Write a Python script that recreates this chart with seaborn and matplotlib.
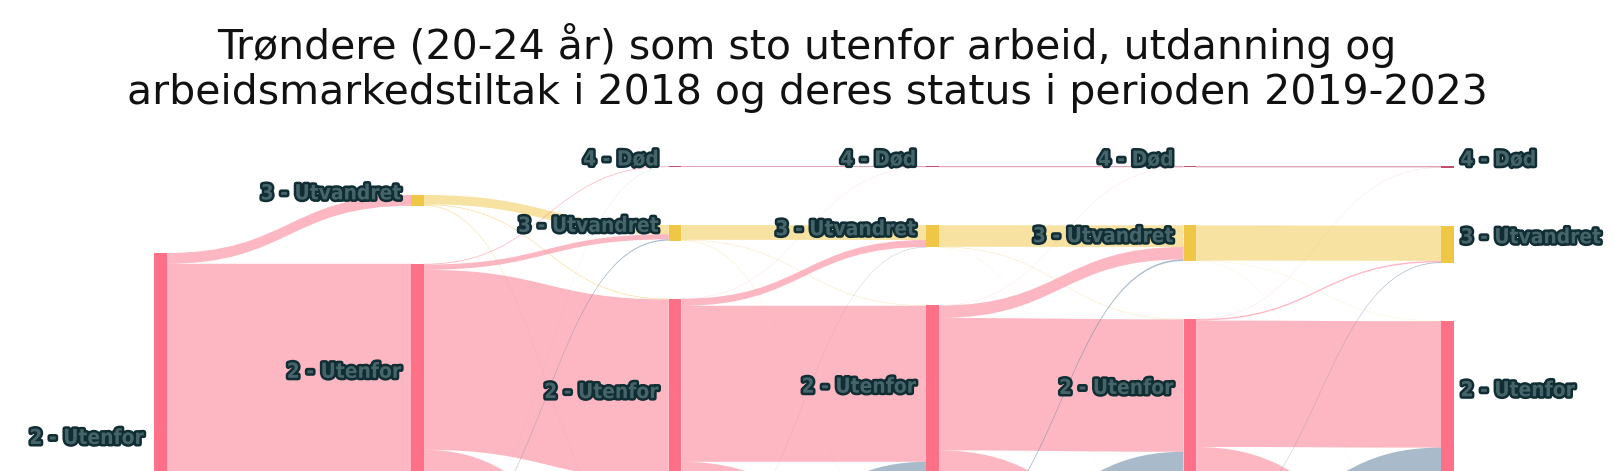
import numpy as np
import pandas as pd
import matplotlib
matplotlib.use("Agg")
import matplotlib.pyplot as plt
import seaborn as sns
from matplotlib.path import Path
from matplotlib.patches import PathPatch, Rectangle
import matplotlib.patheffects as pe
from matplotlib import font_manager as fm

# ---------------- data ----------------
title = ("Trøndere (20-24 år) som sto utenfor arbeid, utdanning og\n"
         "arbeidsmarkedstiltak i 2018 og deres status i perioden 2019-2023")
years = [2018, 2019, 2020, 2021, 2022, 2023]
categories = ["4 - Død", "3 - Utvandret", "2 - Utenfor", "1 - Innenfor"]

# transition 2018 -> 2019
src_2018 = ["2 - Utenfor", "2 - Utenfor", "2 - Utenfor"]
tgt_2019 = ["3 - Utvandret", "2 - Utenfor", "1 - Innenfor"]
val_2018_2019 = [54, 1150, 716]

# transition 2019 -> 2020
src_2019 = ["3 - Utvandret", "3 - Utvandret", "3 - Utvandret",
            "2 - Utenfor", "2 - Utenfor", "2 - Utenfor", "2 - Utenfor",
            "1 - Innenfor", "1 - Innenfor", "1 - Innenfor", "1 - Innenfor"]
tgt_2020 = ["3 - Utvandret", "2 - Utenfor", "1 - Innenfor",
            "4 - Død", "3 - Utvandret", "2 - Utenfor", "1 - Innenfor",
            "4 - Død", "3 - Utvandret", "2 - Utenfor", "1 - Innenfor"]
val_2019_2020 = [46, 4, 4, 4, 26, 900, 220, 1, 6, 101, 608]

# transition 2020 -> 2021
src_2020 = ["4 - Død",
            "3 - Utvandret", "3 - Utvandret", "3 - Utvandret",
            "2 - Utenfor", "2 - Utenfor", "2 - Utenfor", "2 - Utenfor",
            "1 - Innenfor", "1 - Innenfor", "1 - Innenfor"]
tgt_2021 = ["4 - Død",
            "3 - Utvandret", "2 - Utenfor", "1 - Innenfor",
            "4 - Død", "3 - Utvandret", "2 - Utenfor", "1 - Innenfor",
            "3 - Utvandret", "2 - Utenfor", "1 - Innenfor"]
val_2020_2021 = [5, 74, 2, 2, 1, 35, 780, 189, 2, 101, 729]

# transition 2021 -> 2022
src_2021 = list(src_2020)
tgt_2022 = list(tgt_2021)
val_2021_2022 = [6, 108, 2, 1, 1, 62, 662, 158, 8, 96, 816]

# transition 2022 -> 2023
src_2022 = list(src_2020)
tgt_2023 = list(tgt_2021)
val_2022_2023 = [7, 176, 1, 1, 1, 7, 632, 120, 4, 130, 841]

transitions = [
    (src_2018, tgt_2019, val_2018_2019),
    (src_2019, tgt_2020, val_2019_2020),
    (src_2020, tgt_2021, val_2020_2021),
    (src_2021, tgt_2022, val_2021_2022),
    (src_2022, tgt_2023, val_2022_2023),
]

# ---------------- style ----------------
node_colors = {"4 - Død": "#C24D6C", "3 - Utvandret": "#F0C646",
               "2 - Utenfor": "#FD7088", "1 - Innenfor": "#557898"}
LINK_ALPHA = 0.5
PX_PER_UNIT = 0.2          # pixels per person
PAD_PX = 58                # gap between nodes
CENTER_PX = 445            # vertical centre of the columns
COL0_PX, COL_STEP_PX = 154, 257.4
NODE_W_PX = 12.5
LABEL_GAP_PX = 10
LABEL_GAP_RIGHT_PX = 7
LABEL_DY_PX = -7
W_PX, H_PX = 1614, 471

sns.set_theme(style="white")
plt.rcParams["font.family"] = ["DejaVu Sans"]

# choose a narrow bold font for the node labels
avail = {(f.name, f.stretch) for f in fm.fontManager.ttflist}
avail_names = {n for n, _ in avail}
label_font = dict(family=["Liberation Sans", "DejaVu Sans"], fontsize=14)
if "Liberation Sans Narrow" in avail_names:
    label_font = dict(family=["Liberation Sans Narrow", "DejaVu Sans"], fontsize=16)
elif any(n == "DejaVu Sans" and s in ("condensed", "semi-condensed", 87, 75)
         for n, s in avail):
    label_font = dict(family=["DejaVu Sans"], fontstretch="condensed", fontsize=15)

rows = []
for step, (s, t, v) in enumerate(transitions):
    for a, b, c in zip(s, t, v):
        rows.append({"step": step, "source": a, "target": b, "value": c})
links = pd.DataFrame(rows)

# node values
ncols = len(years)
node_val = {}
for col in range(ncols):
    out_v = links[links.step == col].groupby("source")["value"].sum()
    in_v = links[links.step == col - 1].groupby("target")["value"].sum()
    for cat in categories:
        v = max(out_v.get(cat, 0), in_v.get(cat, 0))
        if v > 0:
            node_val[(col, cat)] = v

# layout: each column stacked in category order, centred
pad = PAD_PX / PX_PER_UNIT
node_pos = {}
for col in range(ncols):
    cats = [c for c in categories if (col, c) in node_val]
    span = sum(node_val[(col, c)] for c in cats) + pad * (len(cats) - 1)
    y = -span / 2
    for c in cats:
        node_pos[(col, c)] = (y, y + node_val[(col, c)])
        y += node_val[(col, c)] + pad

fig = plt.figure(figsize=(W_PX / 100, H_PX / 100), dpi=100)
ax = fig.add_axes([0, 0, 1, 1])
ax.set_xlim(-COL0_PX / COL_STEP_PX, (W_PX - COL0_PX) / COL_STEP_PX)
y_bottom = (H_PX - CENTER_PX) / PX_PER_UNIT
ax.set_ylim(y_bottom, -CENTER_PX / PX_PER_UNIT)
ax.axis("off")
node_w = NODE_W_PX / COL_STEP_PX
order = {c: i for i, c in enumerate(categories)}

# links
out_cursor = {k: v[0] for k, v in node_pos.items()}
in_cursor = {k: v[0] for k, v in node_pos.items()}
for step in range(len(transitions)):
    sub = links[links.step == step].copy()
    sub["so"] = sub.source.map(order)
    sub["to"] = sub.target.map(order)
    seg_out = {}
    for _, r in sub.sort_values(["so", "to"]).iterrows():
        k = (step, r.source)
        seg_out[(r.source, r.target)] = (out_cursor[k], out_cursor[k] + r.value)
        out_cursor[k] += r.value
    seg_in = {}
    for _, r in sub.sort_values(["to", "so"]).iterrows():
        k = (step + 1, r.target)
        seg_in[(r.source, r.target)] = (in_cursor[k], in_cursor[k] + r.value)
        in_cursor[k] += r.value
    x0 = step + node_w
    x1 = step + 1
    xm = (x0 + x1) / 2
    for _, r in sub.iterrows():
        a0, a1 = seg_out[(r.source, r.target)]
        b0, b1 = seg_in[(r.source, r.target)]
        verts = [(x0, a0), (xm, a0), (xm, b0), (x1, b0),
                 (x1, b1), (xm, b1), (xm, a1), (x0, a1), (x0, a0)]
        codes = [Path.MOVETO, Path.CURVE4, Path.CURVE4, Path.CURVE4,
                 Path.LINETO, Path.CURVE4, Path.CURVE4, Path.CURVE4,
                 Path.CLOSEPOLY]
        ax.add_patch(PathPatch(Path(verts, codes),
                               facecolor=node_colors[r.source],
                               alpha=LINK_ALPHA, lw=0, zorder=1))

# nodes and labels (labels only where they fall inside the visible area)
stroke = [pe.withStroke(linewidth=3.6, foreground="#0f2d33")]
gap = LABEL_GAP_PX / COL_STEP_PX
gap_r = LABEL_GAP_RIGHT_PX / COL_STEP_PX
margin = 15 / PX_PER_UNIT
for (col, cat), (y0, y1) in node_pos.items():
    ax.add_patch(Rectangle((col, y0), node_w, y1 - y0,
                           facecolor=node_colors[cat], lw=0, zorder=2))
    yc = (y0 + y1) / 2 + LABEL_DY_PX / PX_PER_UNIT
    if yc > y_bottom - margin:
        continue
    if col < ncols - 1:
        x, ha = col - gap, "right"
    else:
        x, ha = col + node_w + gap_r, "left"
    ax.text(x, yc, cat, ha=ha, va="center", fontweight="bold",
            color="#46656b", path_effects=stroke, zorder=3, **label_font)

fig.text(0.5, 1 - 68 / H_PX, title, ha="center", va="center",
         fontsize=29.5, linespacing=1.18, color="#111111",
         family=["DejaVu Sans"])

fig.savefig("out.png", dpi=100)
